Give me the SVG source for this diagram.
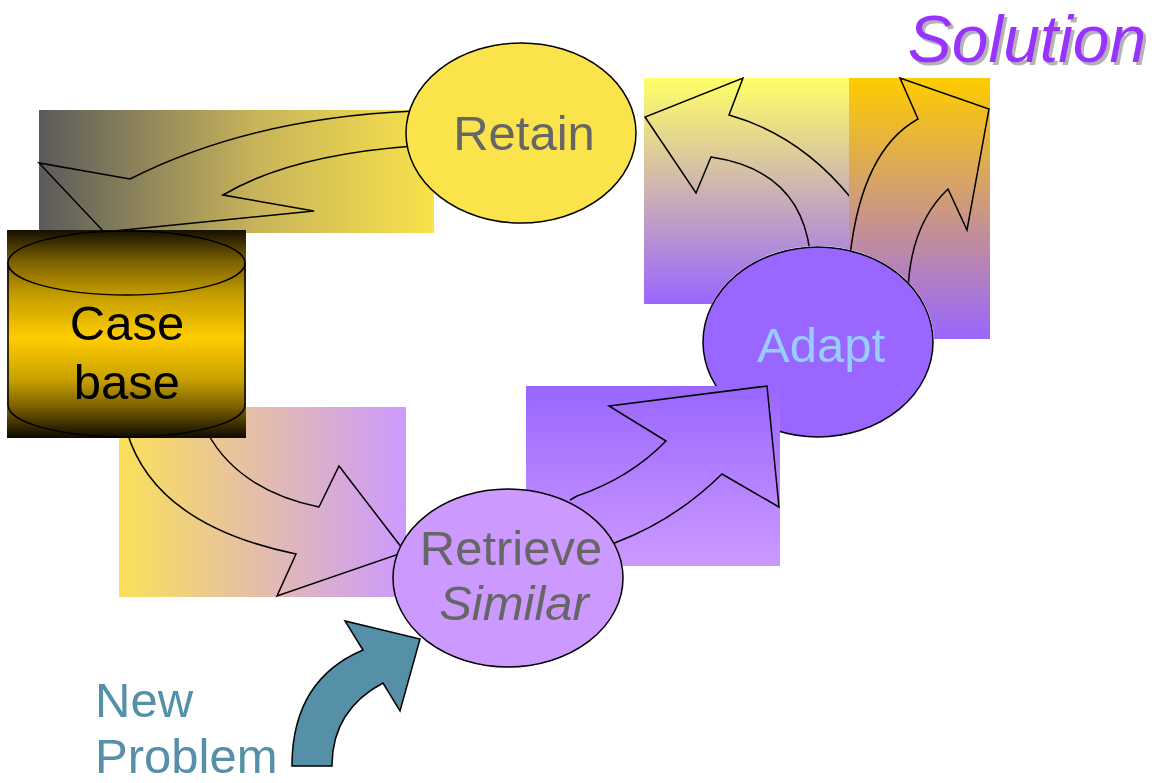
<svg xmlns="http://www.w3.org/2000/svg" width="1157" height="783" viewBox="0 0 1157 783">
  <defs>
    <linearGradient id="gRetain" x1="0" y1="0" x2="1" y2="0">
      <stop offset="0" stop-color="#5a5a5a"/>
      <stop offset="0.55" stop-color="#c8b45a"/>
      <stop offset="1" stop-color="#f9e24a"/>
    </linearGradient>
    <linearGradient id="gCase" x1="0" y1="0" x2="0" y2="1">
      <stop offset="0" stop-color="#140f00"/>
      <stop offset="0.15" stop-color="#7a6000"/>
      <stop offset="0.31" stop-color="#c49c00"/>
      <stop offset="0.52" stop-color="#ffcc00"/>
      <stop offset="0.72" stop-color="#c8a000"/>
      <stop offset="0.85" stop-color="#7a6000"/>
      <stop offset="1" stop-color="#0d0900"/>
    </linearGradient>
    <linearGradient id="gRetrieve" x1="0" y1="0" x2="1" y2="0">
      <stop offset="0" stop-color="#fbe05a"/>
      <stop offset="1" stop-color="#cc99ff"/>
    </linearGradient>
    <linearGradient id="gAdaptIn" x1="0" y1="0" x2="0" y2="1">
      <stop offset="0" stop-color="#9966ff"/>
      <stop offset="1" stop-color="#cc99ff"/>
    </linearGradient>
    <linearGradient id="gOutA" x1="0" y1="0" x2="0" y2="1">
      <stop offset="0" stop-color="#ffff66"/>
      <stop offset="1" stop-color="#9966ff"/>
    </linearGradient>
    <linearGradient id="gOutB" x1="0" y1="0" x2="0" y2="1">
      <stop offset="0" stop-color="#ffcc00"/>
      <stop offset="1" stop-color="#9966ff"/>
    </linearGradient>
    <!-- keeps the outgoing arrows from painting over the Adapt node -->
    <clipPath id="outsideAdapt">
      <path clip-rule="evenodd" d="M0,0 H1157 V783 H0 Z M702,342 A116,96 0 1 0 934,342 A116,96 0 1 0 702,342 Z"/>
    </clipPath>
    <filter id="shadow" x="-10%" y="-10%" width="120%" height="130%">
      <feFlood flood-color="#b3b3b3"/>
      <feComposite in2="SourceAlpha" operator="in"/>
      <feOffset dx="3" dy="3" result="s"/>
      <feMerge>
        <feMergeNode in="s"/>
        <feMergeNode in="SourceGraphic"/>
      </feMerge>
    </filter>
    <style>
      .edge { fill: none; stroke: #000; stroke-width: 1.5; stroke-linejoin: miter; }
      .node { stroke: #000; stroke-width: 1.5; }
      .lbl { font-family: "Liberation Sans", Arial, sans-serif; font-size: 49px; text-anchor: middle; }
      .grey { fill: #666666; }
    </style>
  </defs>

  <g id="adapt">
    <ellipse class="node" cx="818" cy="342" rx="115" ry="95" fill="#9966ff"/>
    <text class="lbl" x="821" y="362" fill="#99ccff">Adapt</text>
  </g>

  <!-- connectors: shaded backdrops with outlined block arrows -->
  <g id="connectors">
    <g id="retain-to-casebase">
      <rect x="39" y="110" width="395" height="123" fill="url(#gRetain)"/>
      <path class="edge" d="M414,111 Q250,118 130,179 L39,163 L104,232 L314,211 L223,195 Q290,155 414,146"/>
    </g>
    <g id="casebase-to-retrieve">
      <rect x="119" y="407" width="287" height="190" fill="url(#gRetrieve)"/>
      <path class="edge" d="M127,432 Q155,525 296,554 L277,596 L405,552 L339,466 L319,507 Q238,490 207,432"/>
    </g>
    <g id="adapt-outputs" clip-path="url(#outsideAdapt)">
      <g id="adapt-to-retain">
        <rect x="644" y="78" width="205" height="226" fill="url(#gOutA)"/>
        <path class="edge" d="M810,252 Q800,170 711,157 L696,193 L645,117 L743,78 L729,115 Q800,135 851,198 L870,250"/>
      </g>
      <g id="adapt-to-solution">
        <rect x="849" y="78" width="141" height="261" fill="url(#gOutB)"/>
        <path class="edge" d="M850,256 Q862,150 918,119 L900,78 L989,109 L967,230 L948,189 Q910,225 908,292"/>
      </g>
    </g>
    <g id="retrieve-to-adapt">
      <rect x="526" y="386" width="254" height="180" fill="url(#gAdaptIn)"/>
      <path class="edge" d="M570,500 L577,496 Q630,478 666,441 L609,406 L767,386 L779,507 L722,474 Q675,520 617,542 L608,546"/>
    </g>
    <g id="problem-to-retrieve">
      <path d="M292,766 Q292,680 363,650 L345,621 L420,639 L400,711 L383,683 Q332,710 332,766 Z" fill="#5590a8" stroke="#000" stroke-width="1.5"/>
    </g>
  </g>

  <g id="retain">
    <ellipse class="node" cx="521" cy="133" rx="115" ry="90" fill="#fbe44b"/>
    <text class="lbl grey" x="524" y="150">Retain</text>
  </g>

  <g id="casebase">
    <rect x="7" y="230" width="239" height="208" fill="url(#gCase)"/>
    <path class="node" fill="none" d="M8,263 L8,405 A118.5,32 0 0 0 245,405 L245,263"/>
    <ellipse class="node" fill="none" cx="126.5" cy="263" rx="118.5" ry="32"/>
    <text class="lbl" x="127" y="340" fill="#000">Case</text>
    <text class="lbl" x="127" y="399" fill="#000">base</text>
  </g>

  <g id="retrieve">
    <ellipse class="node" cx="508" cy="578" rx="115" ry="89" fill="#cc99ff"/>
    <text class="lbl grey" x="511" y="565">Retrieve</text>
    <text class="lbl grey" x="514" y="620" font-style="italic">Similar</text>
  </g>

  <g id="solution">
    <text x="1027" y="62" font-family="'Liberation Sans', Arial, sans-serif" font-size="66" font-style="italic" text-anchor="middle" fill="#9933ff" filter="url(#shadow)">Solution</text>
  </g>

  <g id="new-problem">
    <text x="95" y="717" font-family="'Liberation Sans', Arial, sans-serif" font-size="49" fill="#5590a8">New</text>
    <text x="95" y="773" font-family="'Liberation Sans', Arial, sans-serif" font-size="49" fill="#5590a8">Problem</text>
  </g>
</svg>
